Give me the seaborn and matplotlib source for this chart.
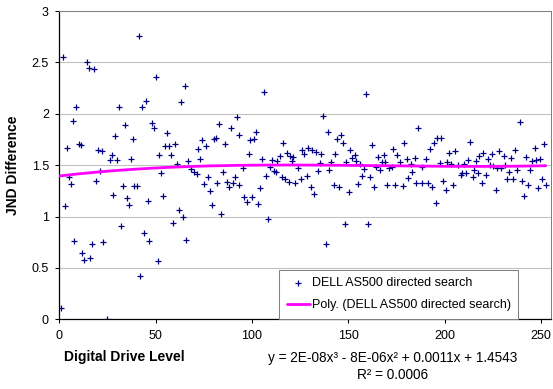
import numpy as np
import pandas as pd
import matplotlib
matplotlib.use("Agg")
import matplotlib.pyplot as plt
import seaborn as sns
from matplotlib.ticker import FuncFormatter

# ---- data ----
drive_level = [
    2.1, 14.2, 15.3, 18.2, 8.9, 7.0, 4.2, 10.1, 11.1, 20.1, 22.0, 21.1, 5.0, 6.1, 19.1, 3.0, 7.8, 17.2, 22.8, 11.9, 13.0, 16.1, 1.0,
    41.2, 31.1, 43.1, 45.2, 34.2, 29.1, 38.1, 27.2, 26.2, 30.1, 37.1, 33.0, 38.9, 40.1, 28.1, 35.2, 36.2, 46.2, 32.2, 44.2, 46.7, 42.0, 25.0,
    50.0, 65.1, 63.2, 48.1, 49.1, 56.1, 55.0, 57.1, 60.2, 51.9, 58.1, 61.3, 66.9, 53.0, 68.2, 70.1, 54.0, 62.3, 64.1, 59.2, 65.9, 51.0,
    92.1, 83.1, 89.2, 93.4, 74.2, 80.2, 81.2, 86.1, 76.1, 72.2, 73.2, 71.4, 85.1, 77.2, 91.2, 75.3, 82.0, 87.2, 90.2, 88.2, 93.1, 78.2, 79.2, 84.1,
    106.2, 102.3, 99.0, 101.2, 116.3, 98.2, 105.2, 110.3, 113.1, 114.4, 95.2, 109.2, 107.1, 111.3, 112.5, 115.4, 104.3, 96.0, 100.2, 97.2, 103.3, 108.2,
    137.1, 139.3, 129.2, 131.0, 126.2, 127.2, 133.0, 136.0, 118.2, 119.6, 121.3, 120.6, 135.4, 124.0, 134.2, 140.1, 117.3, 119.4, 122.2, 125.3, 128.3, 130.5, 132.2, 138.3,
    159.2, 146.4, 144.3, 147.3, 162.4, 151.0, 143.2, 153.3, 152.0, 154.2, 148.8, 141.2, 156.2, 158.3, 157.3, 161.2, 142.4, 145.4, 155.2, 163.2, 150.2, 148.3, 160.0,
    186.0, 178.9, 173.4, 168.4, 175.1, 165.6, 180.5, 184.5, 167.3, 169.0, 176.7, 182.4, 164.6, 171.2, 172.4, 166.5, 183.2, 181.2, 185.1, 170.2, 174.3, 178.2,
    196.2, 198.2, 194.5, 192.4, 202.4, 205.4, 190.4, 197.4, 201.4, 203.5, 206.7, 209.9, 188.4, 208.9, 208.2, 188.2, 191.2, 193.3, 199.3, 204.5, 200.6, 195.3,
    213.3, 228.2, 220.1, 218.0, 224.4, 230.7, 222.5, 212.3, 216.4, 223.4, 225.1, 231.3, 227.2, 229.3, 215.4, 233.4, 210.8, 217.5, 221.5, 214.5, 232.4, 219.4, 226.4,
    239.3, 251.6, 246.6, 236.6, 242.4, 234.4, 245.5, 247.6, 249.5, 237.6, 244.4, 235.2, 240.3, 250.4, 243.4, 252.4, 248.5, 241.3,
]
jnd_difference = [
    2.55, 2.50, 2.45, 2.44, 2.07, 1.93, 1.67, 1.71, 1.70, 1.65, 1.64, 1.44, 1.38, 1.32, 1.35, 1.10, 0.765, 0.735, 0.75, 0.65, 0.58, 0.60, 0.107,
    2.76, 2.07, 2.07, 2.12, 1.89, 1.78, 1.75, 1.60, 1.55, 1.55, 1.56, 1.30, 1.30, 1.30, 1.21, 1.18, 1.11, 1.15, 0.905, 0.84, 0.765, 0.42, 0.0,
    2.36, 2.27, 2.11, 1.91, 1.86, 1.81, 1.69, 1.69, 1.71, 1.60, 1.60, 1.51, 1.54, 1.42, 1.46, 1.43, 1.20, 1.06, 1.00, 0.94, 0.77, 0.57,
    1.965, 1.905, 1.86, 1.79, 1.74, 1.75, 1.76, 1.71, 1.69, 1.66, 1.56, 1.41, 1.43, 1.38, 1.38, 1.32, 1.33, 1.34, 1.33, 1.29, 1.31, 1.245, 1.115, 1.02,
    2.21, 1.82, 1.74, 1.75, 1.72, 1.605, 1.56, 1.55, 1.54, 1.585, 1.475, 1.48, 1.39, 1.44, 1.43, 1.38, 1.28, 1.19, 1.19, 1.14, 1.12, 0.98,
    1.975, 1.82, 1.67, 1.65, 1.645, 1.61, 1.625, 1.61, 1.615, 1.59, 1.58, 1.545, 1.52, 1.47, 1.44, 1.455, 1.37, 1.335, 1.33, 1.365, 1.395, 1.29, 1.22, 0.735,
    2.195, 1.79, 1.75, 1.72, 1.70, 1.645, 1.61, 1.595, 1.565, 1.545, 1.535, 1.53, 1.51, 1.46, 1.39, 1.385, 1.305, 1.29, 1.32, 1.29, 1.24, 0.925, 0.925,
    1.865, 1.72, 1.655, 1.60, 1.60, 1.58, 1.56, 1.57, 1.535, 1.53, 1.535, 1.51, 1.485, 1.475, 1.48, 1.45, 1.43, 1.375, 1.33, 1.31, 1.31, 1.30,
    1.765, 1.765, 1.72, 1.655, 1.615, 1.635, 1.555, 1.525, 1.535, 1.515, 1.505, 1.51, 1.48, 1.42, 1.40, 1.325, 1.33, 1.29, 1.35, 1.305, 1.26, 1.13,
    1.725, 1.64, 1.62, 1.59, 1.605, 1.59, 1.56, 1.55, 1.54, 1.50, 1.495, 1.50, 1.47, 1.475, 1.45, 1.43, 1.42, 1.425, 1.405, 1.38, 1.37, 1.33, 1.26,
    1.92, 1.71, 1.67, 1.645, 1.58, 1.57, 1.545, 1.55, 1.56, 1.45, 1.45, 1.37, 1.35, 1.37, 1.31, 1.31, 1.28, 1.195,
]
series_name = "DELL AS500 directed search"
trend_name = "Poly. (DELL AS500 directed search)"
x_ticks = [0, 50, 100, 150, 200, 250]
y_ticks = [0, 0.5, 1, 1.5, 2, 2.5, 3]
x_label = "Digital Drive Level"
y_label = "JND Difference"
equation_text = "y = 2E-08x³ - 8E-06x² + 0.0011x + 1.4543"
r2_text = "R² = 0.0006"

sns.set_theme(style="white")
plt.rcParams['font.family'] = ['Liberation Sans', 'DejaVu Sans']

df = pd.DataFrame({"level": drive_level, "jnd": jnd_difference})
coef = np.polyfit(df["level"], df["jnd"], 3)
xs = np.linspace(0, df["level"].max(), 300)
trend = pd.DataFrame({"level": xs, "jnd": np.polyval(coef, xs)})

W, H = 553, 389
fig = plt.figure(figsize=(W / 100, H / 100), dpi=100)
fig.patch.set_facecolor("white")
ax = fig.add_axes([59.3 / W, 1 - 319.3 / H, (550.7 - 59.3) / W, (319.3 - 11) / H])

sns.scatterplot(data=df, x="level", y="jnd", marker="+", color="#000080",
                s=24, linewidth=0.9, ax=ax, label=series_name, zorder=2)
sns.lineplot(data=trend, x="level", y="jnd", color="#FF00FF", linewidth=2.0,
             ax=ax, label=trend_name, zorder=3)

ax.set_xlim(0, 255)
ax.set_ylim(0, 3)
ax.set_xticks(x_ticks)
ax.set_yticks(y_ticks)
ax.yaxis.set_major_formatter(FuncFormatter(lambda v, p: f"{v:g}"))
ax.grid(axis="y", color="#C0C0C0", linewidth=0.75)
ax.grid(axis="x", visible=False)
ax.set_axisbelow(True)
for side in ["top", "right"]:
    ax.spines[side].set_color("#808080")
    ax.spines[side].set_linewidth(0.75)
for side in ["left", "bottom"]:
    ax.spines[side].set_color("black")
    ax.spines[side].set_linewidth(0.9)
ax.tick_params(axis="both", which="major", bottom=True, left=True, direction="out",
               length=3, width=0.75, color="black", labelsize=9, labelcolor="black")
ax.tick_params(axis="x", pad=5)
ax.tick_params(axis="y", pad=4.5)

ax.set_ylabel(y_label, fontsize=10, fontweight="bold", color="black", va="center")
ax.yaxis.set_label_coords((13 - 59.3) / 491.4, 0.5)
ax.set_xlabel(x_label, fontsize=10, fontweight="bold", color="black", ha="left", va="center")
ax.xaxis.set_label_coords((64.5 - 59.3) / 491.4, -(357 - 319.3) / 308.3)

fig.text(393 / W, 1 - 358 / H, equation_text, fontsize=9.8, ha="center", va="center", color="black")
fig.text(393 / W, 1 - 375 / H, r2_text, fontsize=9.8, ha="center", va="center", color="black")

leg = ax.legend(loc="upper left", bbox_to_anchor=(279 / W, 1 - 269.5 / H), bbox_transform=fig.transFigure,
                borderaxespad=0, fontsize=9, handlelength=1.9, handletextpad=0.12, borderpad=0.6,
                labelspacing=0.8, fancybox=False, framealpha=1, edgecolor="#808080", scatterpoints=1)
leg.get_frame().set_linewidth(0.75)
for t in leg.get_texts():
    t.set_color("black")

fig.savefig("out.png", dpi=100, facecolor="white")
